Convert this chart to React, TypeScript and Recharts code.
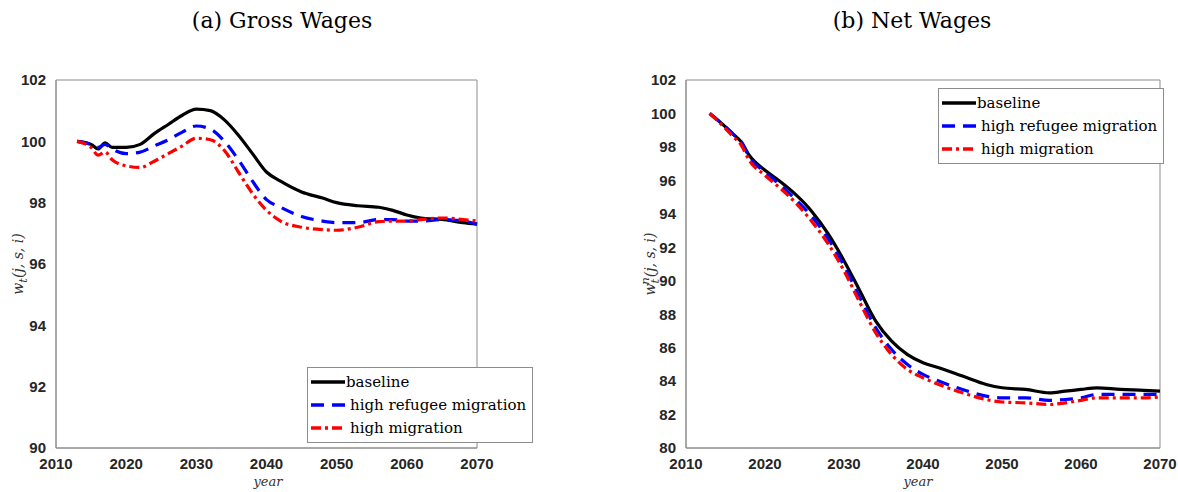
import { LineChart, Line, XAxis, YAxis, ReferenceArea } from "recharts";

const years = [2013, 2015, 2016, 2017, 2018, 2020, 2022, 2024, 2026, 2028, 2030, 2032, 2034, 2036, 2038, 2040, 2042, 2045, 2048, 2050, 2053, 2056, 2058, 2060, 2062, 2065, 2068, 2070];

const grossBaseline = [100, 99.9, 99.75, 99.95, 99.8, 99.8, 99.9, 100.25, 100.55, 100.85, 101.05, 101.0, 100.7, 100.2, 99.6, 99.0, 98.7, 98.35, 98.15, 98.0, 97.9, 97.85, 97.75, 97.6, 97.5, 97.45, 97.35, 97.3];
const grossRefugee = [100, 99.9, 99.8, 99.9, 99.75, 99.6, 99.65, 99.85, 100.05, 100.3, 100.5, 100.4, 100.0, 99.4, 98.7, 98.1, 97.85, 97.55, 97.4, 97.35, 97.35, 97.45, 97.45, 97.4, 97.4, 97.45, 97.4, 97.3];
const grossHigh = [100, 99.8, 99.55, 99.65, 99.4, 99.2, 99.15, 99.35, 99.6, 99.85, 100.1, 100.05, 99.7, 99.0, 98.3, 97.75, 97.4, 97.2, 97.12, 97.1, 97.2, 97.38, 97.4, 97.4, 97.45, 97.5, 97.45, 97.4];

const netBaseline = [100, 99.2, 98.75, 98.3, 97.5, 96.6, 95.9, 95.1, 94.1, 92.8, 91.2, 89.4, 87.6, 86.4, 85.6, 85.1, 84.8, 84.3, 83.8, 83.6, 83.5, 83.3, 83.4, 83.5, 83.6, 83.5, 83.45, 83.4];
const netRefugee = [100, 99.2, 98.75, 98.3, 97.4, 96.5, 95.7, 94.8, 93.8, 92.5, 90.9, 89.0, 87.2, 85.9, 85.0, 84.4, 84.0, 83.5, 83.1, 83.0, 83.0, 82.85, 82.9, 83.0, 83.2, 83.2, 83.2, 83.2];
const netHigh = [100, 99.1, 98.6, 98.1, 97.2, 96.3, 95.5, 94.6, 93.5, 92.2, 90.6, 88.7, 86.9, 85.6, 84.7, 84.2, 83.8, 83.3, 82.9, 82.75, 82.7, 82.6, 82.7, 82.85, 83.0, 83.0, 83.0, 83.05];

const xTicks = [2010, 2020, 2030, 2040, 2050, 2060, 2070];
const grossTicks = [90, 92, 94, 96, 98, 100, 102];
const netTicks = [80, 82, 84, 86, 88, 90, 92, 94, 96, 98, 100, 102];

const seriesNames = ["baseline", "high refugee migration", "high migration"];

const grossData = years.map((y, i) => ({ year: y, a: grossBaseline[i], b: grossRefugee[i], c: grossHigh[i] }));
const netData = years.map((y, i) => ({ year: y, a: netBaseline[i], b: netRefugee[i], c: netHigh[i] }));

const tickStyle = { fontSize: 15, fontWeight: 700, fill: "#262626", fontFamily: "Liberation Sans, Arial, sans-serif" };
const boxColor = "#8c8c8c";
const serif = "'DejaVu Serif', 'Liberation Serif', serif";

function Panel({ data, yTicks, width }: { data: any[]; yTicks: number[]; width: number }) {
  const lo = yTicks[0];
  const hi = yTicks[yTicks.length - 1];
  return (
    <LineChart width={width} height={492} data={data} margin={{ top: 80, right: 18, left: 16, bottom: 14 }}>
      <XAxis dataKey="year" type="number" domain={[2010, 2070]} ticks={xTicks} tick={tickStyle} tickLine={false} axisLine={{ stroke: boxColor }} height={30} tickMargin={4} />
      <YAxis domain={[lo, hi]} ticks={yTicks} tick={tickStyle} tickLine={false} axisLine={{ stroke: boxColor }} width={40} tickMargin={4} />
      <ReferenceArea x1={2010} x2={2070} y1={lo} y2={hi} fill="none" stroke={boxColor} strokeWidth={1} ifOverflow="extendDomain" />
      <Line dataKey="a" stroke="#000" strokeWidth={3.2} dot={false} type="monotone" isAnimationActive={false} />
      <Line dataKey="b" stroke="#0000ff" strokeWidth={3.2} strokeDasharray="13 8" dot={false} type="monotone" isAnimationActive={false} />
      <Line dataKey="c" stroke="#ff0000" strokeWidth={3.2} strokeDasharray="10 4 3 4" dot={false} type="monotone" isAnimationActive={false} />
    </LineChart>
  );
}

function LegendBox({ left, top }: { left: number; top: number }) {
  const samples = [
    { c: "#000", d: "none" },
    { c: "#0000ff", d: "13 8" },
    { c: "#ff0000", d: "10 4 3 4" },
  ];
  return (
    <div style={{ position: "absolute", left, top, border: `1px solid ${boxColor}`, background: "#fff", padding: "2px 6px 3px 2px", fontFamily: serif, fontSize: 15 }}>
      {seriesNames.map((n, i) => (
        <div key={n} style={{ display: "flex", alignItems: "center", height: 23 }}>
          <svg width={36} height={10}>
            <line x1={1} y1={5} x2={35} y2={5} stroke={samples[i].c} strokeWidth={3.5} strokeDasharray={samples[i].d} />
          </svg>
          <span style={{ marginLeft: i === 0 ? 0 : 4 }}>{n}</span>
        </div>
      ))}
    </div>
  );
}

function YLabel({ left, children }: { left: number; children: any }) {
  return (
    <div style={{ position: "absolute", left, top: 264, transform: "translate(-50%, -50%) rotate(-90deg)", fontFamily: serif, fontStyle: "italic", fontSize: 14, color: "#333", whiteSpace: "nowrap" }}>
      {children}
    </div>
  );
}

export default function App() {
  const title = { position: "absolute" as const, top: 8, fontFamily: serif, fontSize: 22, transform: "translateX(-50%)", whiteSpace: "nowrap" as const };
  const xl = { position: "absolute" as const, top: 474, fontFamily: serif, fontStyle: "italic", fontSize: 13, lineHeight: "15px", color: "#333", transform: "translateX(-50%)" };
  return (
    <div style={{ position: "absolute", left: 0, top: 0, width: 1178, height: 492, background: "#fff", overflow: "hidden" }}>
      <div style={{ position: "absolute", left: 0, top: 0 }}>
        <Panel data={grossData} yTicks={grossTicks} width={495} />
      </div>
      <div style={{ position: "absolute", left: 630, top: 0 }}>
        <Panel data={netData} yTicks={netTicks} width={548} />
      </div>
      <div style={{ ...title, left: 282 }}>(a) Gross Wages</div>
      <div style={{ ...title, left: 912 }}>(b) Net Wages</div>
      <div style={{ ...xl, left: 268 }}>year</div>
      <div style={{ ...xl, left: 918 }}>year</div>
      <YLabel left={20}>w<sub>t</sub>(j, s, i)</YLabel>
      <YLabel left={650}>w<sub>t</sub><sup style={{ marginLeft: -6 }}>n</sup>(j, s, i)</YLabel>
      <LegendBox left={307} top={367} />
      <LegendBox left={938} top={88} />
    </div>
  );
}
